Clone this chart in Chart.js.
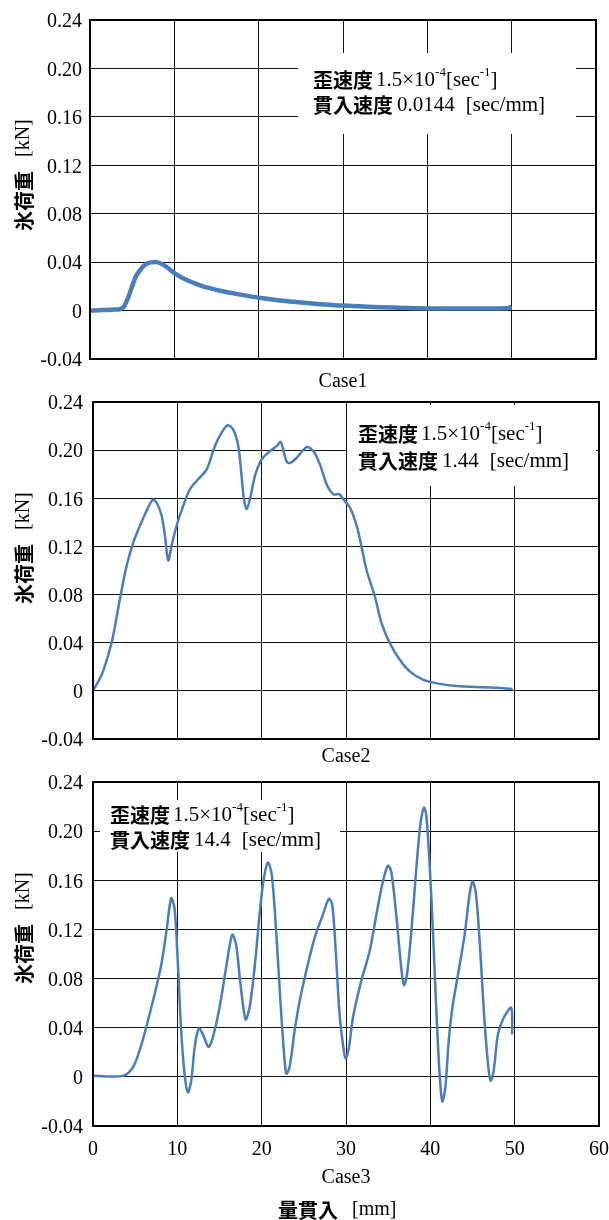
<!DOCTYPE html>
<html><head><meta charset="utf-8">
<script src="https://cdn.jsdelivr.net/npm/chart.js@4.4.0/dist/chart.umd.min.js"></script>
<style>
html,body{margin:0;padding:0;background:#fff;}
#wrap{position:relative;width:609px;height:1220px;overflow:hidden;background:#fff;}
canvas{position:absolute;left:0;}
</style></head><body>
<div id="wrap">
<canvas id="c1" width="609" height="400" style="top:0px"></canvas>
<canvas id="c2" width="609" height="400" style="top:380px"></canvas>
<canvas id="c3" width="625" height="460" style="top:760px"></canvas>
</div>
<script>
// ---------- data ----------
const xTicks = [0, 10, 20, 30, 40, 50, 60];
const xTickLabels = ['0', '10', '20', '30', '40', '50', '60'];
const yTicks = [-0.04, 0, 0.04, 0.08, 0.12, 0.16, 0.20, 0.24];
const yTickLabels = ['-0.04', '0', '0.04', '0.08', '0.12', '0.16', '0.20', '0.24'];

const case1X = [0,1,2,3,3.5,4,4.3,4.6,4.9,5.2,5.5,5.9,6.3,6.8,7.3,7.9,8.5,9.1,10,11.4,13.4,15.3,17.3,20.5,24,27,30,33,36,40,45,49.5,50];
const case1Y = [0,0.0003,0.0005,0.0008,0.001,0.003,0.007,0.012,0.018,0.024,0.029,0.033,0.0365,0.039,0.0398,0.040,0.0385,0.036,0.031,0.0254,0.0199,0.0166,0.0138,0.0102,0.0072,0.0055,0.0041,0.0032,0.0025,0.0018,0.0017,0.0019,0.003];

const case2X = [0,1.02,1.81,2.4,3.2,3.99,4.78,5.57,6.36,7.07,7.54,8.14,8.53,8.92,9.32,9.91,10.7,11.49,12.28,13.47,14.45,15.24,15.96,16.63,17.23,17.62,17.9,18.22,18.61,19.2,20.0,20.99,21.78,22.25,22.65,23.0,23.4,24.15,25.33,26.12,26.91,27.7,28.5,29.2,29.68,30.47,31.26,31.86,32.45,33.44,34.23,35.22,36.4,37.59,39.17,41.15,43.12,46.29,48.66,49.76];
const case2Y = [0,0.0132,0.0298,0.0463,0.0766,0.104,0.1234,0.1372,0.1496,0.1587,0.1565,0.1455,0.1289,0.1083,0.1207,0.1372,0.1537,0.1675,0.1744,0.184,0.2033,0.2143,0.2207,0.2171,0.2033,0.1785,0.1592,0.151,0.1592,0.1785,0.1923,0.1992,0.2033,0.2069,0.1978,0.19,0.1895,0.1937,0.2025,0.1992,0.1882,0.1716,0.1634,0.1634,0.1592,0.1523,0.1372,0.1193,0.1,0.078,0.0559,0.0394,0.0256,0.016,0.0091,0.0058,0.0041,0.003,0.0022,0.0014];

const case3X = [0,3.54,4.72,5.5,6.3,7.3,8.1,8.7,9.27,9.67,10.07,10.46,10.86,11.25,11.65,12.05,12.55,13.03,13.7,14.2,15.0,15.78,16.5,16.97,17.45,18.09,18.56,19.16,19.75,20.2,20.74,21.2,21.72,22.2,22.6,22.92,23.3,23.9,24.5,25.28,26.27,27.26,27.97,28.37,28.76,29.24,29.64,29.95,30.35,30.82,31.8,32.8,33.67,34.38,34.97,35.37,35.96,36.55,36.87,37.23,37.75,38.34,38.81,39.24,39.52,39.92,40.31,40.7,41.1,41.42,41.78,42.18,42.61,43.28,44.07,44.59,44.98,45.38,45.85,46.37,46.84,47.15,47.51,48.02,48.7,49.6,49.7];
const case3Y = [0.0008,0.0008,0.0076,0.021,0.04,0.067,0.0914,0.118,0.1454,0.137,0.0914,0.0373,0.0022,-0.0127,-0.0032,0.0238,0.0395,0.0346,0.0243,0.0319,0.0562,0.0887,0.1157,0.1076,0.0779,0.0468,0.0562,0.0887,0.1319,0.159,0.1744,0.1644,0.1184,0.0643,0.0238,0.0027,0.0076,0.0373,0.0616,0.086,0.113,0.132,0.1449,0.14,0.1049,0.0508,0.0265,0.0149,0.0238,0.0481,0.0779,0.1022,0.1346,0.159,0.1719,0.167,0.1319,0.0887,0.0746,0.0833,0.1184,0.1698,0.2049,0.2192,0.213,0.1725,0.1184,0.0562,0.0022,-0.02,-0.0087,0.0292,0.0562,0.0833,0.1157,0.1454,0.159,0.1508,0.1103,0.0508,0.0103,-0.0032,0.0049,0.0346,0.0481,0.0562,0.0346];

const caseNames = ['Case1', 'Case2', 'Case3'];
const yTitleMain = '氷荷重';
const yTitleUnit = '[kN]';
const xTitleMain = '量貫入';
const xTitleUnit = '[mm]';
const strainLabel = '歪速度';
const strainValue = '1.5×10';
const strainExp = '-4';
const strainUnitA = '[sec';
const strainUnitExp = '-1';
const strainUnitB = ']';
const speedLabel = '貫入速度';
const speedValues = ['0.0144', '1.44', '14.4'];
const speedUnit = '[sec/mm]';

// ---------- style ----------
const SERIF = '"Liberation Serif", "Times New Roman", serif';
const CJK = '"Noto Sans CJK JP", "Noto Sans CJK SC", sans-serif';
const LINE_COLOR = '#4A7EBB';

function drawRuns(ctx, runs, x, y) {
  let cx = x;
  for (const r of runs) {
    if (r.gap) { cx += r.gap; continue; }
    ctx.font = r.font;
    ctx.fillText(r.text, cx, y + (r.dy || 0));
    cx += ctx.measureText(r.text).width;
  }
}

function makeChart(id, idx, xs, ys, L) {
  const canvas = document.getElementById(id);
  const pts = xs.map((x, i) => ({ x: x, y: ys[i] }));
  const overlay = {
    id: 'overlay' + idx,
    beforeDatasetsDraw(chart) {
      const ctx = chart.ctx;
      const b = L.box;
      ctx.save();
      ctx.fillStyle = '#fff';
      ctx.fillRect(b[0], b[1] - L.top, b[2] - b[0], b[3] - b[1]);
      ctx.fillStyle = '#000';
      ctx.textBaseline = 'middle';
      const cjkF = 'bold 20px ' + CJK;
      const serF = '21px ' + SERIF;
      const supF = '13px ' + SERIF;
      drawRuns(ctx, [
        { text: strainLabel, font: cjkF }, { gap: 3 },
        { text: strainValue, font: serF },
        { text: strainExp, font: supF, dy: -7 },
        { text: strainUnitA, font: serF },
        { text: strainUnitExp, font: supF, dy: -7 },
        { text: strainUnitB, font: serF }
      ], L.tx, L.ly[0] - L.top);
      drawRuns(ctx, [
        { text: speedLabel, font: cjkF }, { gap: 4 },
        { text: speedValues[idx], font: serF }, { gap: 11 },
        { text: speedUnit, font: serF }
      ], L.tx, L.ly[1] - L.top);
      ctx.restore();
    },
    afterDraw(chart) {
      const ctx = chart.ctx;
      const a = chart.chartArea;
      ctx.save();
      ctx.strokeStyle = '#000';
      ctx.lineWidth = 2;
      ctx.strokeRect(a.left, a.top, a.right - a.left, a.bottom - a.top);
      // y-axis title (rotated)
      ctx.fillStyle = '#000';
      ctx.textBaseline = 'middle';
      ctx.translate(24, L.yTitleStart - L.top);
      ctx.rotate(-Math.PI / 2);
      drawRuns(ctx, [
        { text: yTitleMain, font: 'bold 20px ' + CJK }, { gap: 14 },
        { text: yTitleUnit, font: '20px ' + SERIF }
      ], 0, 0);
      ctx.restore();
      if (L.xTitle) {
        ctx.save();
        ctx.fillStyle = '#000';
        ctx.textBaseline = 'middle';
        drawRuns(ctx, [
          { text: xTitleMain, font: 'bold 20px ' + CJK }, { gap: 14 },
          { text: xTitleUnit, font: '20px ' + SERIF }
        ], L.xTitle[0], L.xTitle[1] - L.top);
        ctx.restore();
      }
    }
  };
  return new Chart(canvas, {
    type: 'line',
    data: {
      datasets: [{
        data: pts,
        borderColor: LINE_COLOR,
        borderWidth: L.lw,
        pointRadius: 0,
        tension: 0.3,
        fill: false
      }]
    },
    options: {
      responsive: false,
      animation: false,
      events: [],
      layout: { padding: { top: L.padTop, right: L.padRight, bottom: 0, left: 0 } },
      plugins: { legend: { display: false }, tooltip: { enabled: false } },
      scales: {
        x: {
          type: 'linear', min: 0, max: 60,
          afterBuildTicks: s => { s.ticks = xTicks.map(v => ({ value: v })); },
          afterFit: s => { s.height = L.xH; },
          grid: { color: '#111', lineWidth: 1, drawTicks: false },
          border: { display: false },
          ticks: {
            display: L.showX, padding: L.xTickPad, color: '#000',
            font: { family: SERIF, size: 20 },
            maxRotation: 0,
            callback: (v, i) => xTickLabels[i]
          },
          title: {
            display: true, text: caseNames[idx], color: '#000',
            font: { family: SERIF, size: 20 },
            align: 'center',
            padding: { top: 0, bottom: L.titlePadBottom }
          }
        },
        y: {
          type: 'linear', min: -0.04, max: 0.24,
          afterBuildTicks: s => { s.ticks = yTicks.map(v => ({ value: v })); },
          afterFit: s => { s.width = L.yW; },
          grid: { color: '#111', lineWidth: 1, drawTicks: false },
          border: { display: false },
          ticks: {
            padding: L.yTickPad, color: '#000', labelOffset: 2,
            font: { family: SERIF, size: 20 },
            callback: (v, i) => yTickLabels[i]
          }
        }
      }
    },
    plugins: [overlay]
  });
}

makeChart('c1', 0, case1X, case1Y, {
  top: 0, padTop: 19, padRight: 13, yW: 90, xH: 41, showX: false, xTickPad: 0,
  titlePadBottom: 6, yTickPad: 8, lw: 4.5,
  box: [298, 53, 576, 134], tx: 313, ly: [80, 105], yTitleStart: 231
});
makeChart('c2', 1, case2X, case2Y, {
  top: 380, padTop: 19, padRight: 10, yW: 93, xH: 41, showX: false, xTickPad: 0,
  titlePadBottom: 11, yTickPad: 10, lw: 2.5,
  box: [347, 405, 596, 486], tx: 358, ly: [434, 461], yTitleStart: 604
});
makeChart('c3', 2, case3X, case3Y, {
  top: 760, padTop: 20, padRight: 26, yW: 93, xH: 94, showX: true, xTickPad: 12,
  titlePadBottom: 30, yTickPad: 10, lw: 2.5,
  box: [100, 800, 340, 852], tx: 110, ly: [815, 840], yTitleStart: 984,
  xTitle: [278, 1210]
});
</script>
</body></html>
